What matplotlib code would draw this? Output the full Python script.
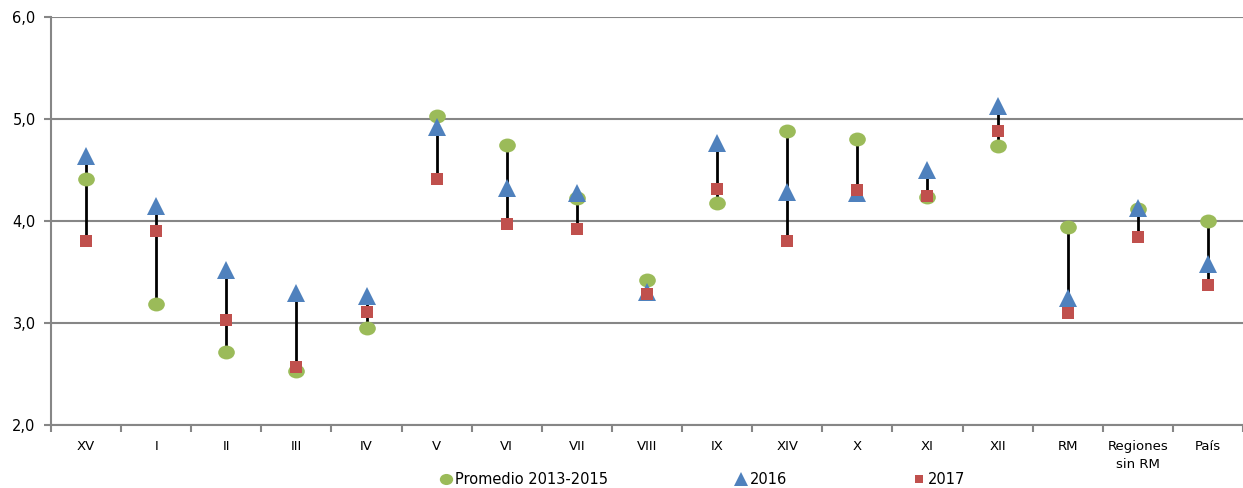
import matplotlib
matplotlib.use("Agg")
import matplotlib.pyplot as plt
import numpy as np

regiones = ["XV", "I", "II", "III", "IV", "V", "VI", "VII", "VIII", "IX",
            "XIV", "X", "XI", "XII", "RM", "Regiones\nsin RM", "País"]
promedio = [4.41, 3.19, 2.72, 2.53, 2.95, 5.03, 4.75, 4.23, 3.42, 4.18,
            4.88, 4.80, 4.24, 4.74, 3.94, 4.12, 4.00]
v2016 = [4.64, 4.15, 3.52, 3.29, 3.26, 4.92, 4.32, 4.27, 3.30, 4.76,
         4.28, 4.27, 4.50, 5.13, 3.25, 4.13, 3.58]
v2017 = [3.80, 3.90, 3.03, 2.57, 3.11, 4.41, 3.97, 3.92, 3.28, 4.31,
         3.80, 4.30, 4.25, 4.88, 3.10, 3.84, 3.37]

W, H = 1243, 488
fig = plt.figure(figsize=(W / 100, H / 100), dpi=100)
ax = fig.add_axes([51 / W, 1 - 425 / H, (W - 51) / W, (425 - 17) / H])

x = np.arange(len(regiones))
allv = np.array([promedio, v2016, v2017])
ax.vlines(x, allv.min(axis=0), allv.max(axis=0), color="black", lw=2, zorder=2)

# circle is drawn slightly wider than tall in the original
oval = matplotlib.markers.MarkerStyle("o").get_path().transformed(
    matplotlib.transforms.Affine2D().scale(1.2, 1.0))
ax.plot(x, promedio, ls="none", marker=oval, ms=12, color="#9BBB59",
        markeredgewidth=0, zorder=3, label="Promedio 2013-2015")
ax.plot(x, v2016, ls="none", marker="^", ms=13, color="#4F81BD",
        markeredgewidth=0, zorder=4, label="2016")
ax.plot(x, v2017, ls="none", marker="s", ms=8, color="#C0504D",
        markeredgewidth=0, zorder=5, label="2017")

step = 70.7
ax.set_xlim(-0.5, -0.5 + (W - 51) / step)
ax.set_ylim(2, 6)
ax.set_yticks([2, 3, 4, 5, 6])
ax.set_yticklabels(["2,0", "3,0", "4,0", "5,0", "6,0"], fontsize=10.5)
ax.yaxis.grid(True, color="#868686", lw=1.5)
ax.set_axisbelow(True)

ax.set_xticks(x)
ax.set_xticklabels(regiones, fontsize=9.5, linespacing=1.5)
ax.set_xticks(np.arange(-0.5, len(regiones), 1), minor=True)
ax.tick_params(axis="x", which="major", length=0, pad=11)
ax.tick_params(axis="x", which="minor", length=5, color="#868686", width=1.5,
               direction="out")
ax.tick_params(axis="y", length=5, color="#868686", width=1.5, pad=6)

for s in ["top", "right"]:
    ax.spines[s].set_visible(False)
for s in ["left", "bottom"]:
    ax.spines[s].set_color("#868686")
    ax.spines[s].set_linewidth(1.5)

fig.legend(loc="center", bbox_to_anchor=(0.565, 1 - 480 / H), ncol=3,
           frameon=False, fontsize=10.5, columnspacing=8.6, handletextpad=0.1,
           handlelength=1.0, markerscale=0.8, borderpad=0.1)

fig.savefig("out.png", dpi=100)
